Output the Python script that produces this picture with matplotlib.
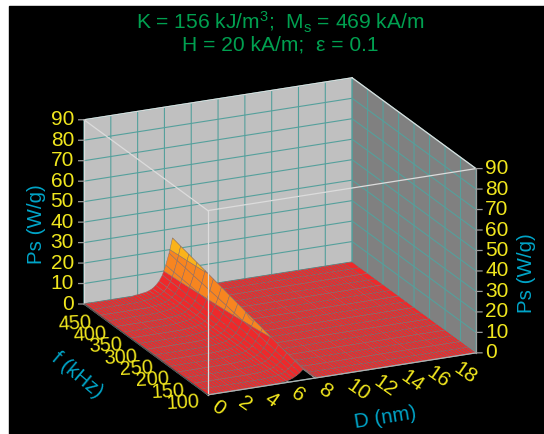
import numpy as np
import matplotlib
matplotlib.use('Agg')
import matplotlib.pyplot as plt
from matplotlib.patches import Rectangle
from mpl_toolkits.mplot3d import proj3d
from mpl_toolkits.mplot3d.art3d import Poly3DCollection

# values
D_ticks = [0, 2, 4, 6, 8, 10, 12, 14, 16, 18, 20]
D_labels = ['0', '2', '4', '6', '8', '10', '12', '14', '16', '18', '']
f_ticks = [100, 150, 200, 250, 300, 350, 400, 450, 500]
f_labels = ['100', '150', '200', '250', '300', '350', '400', '450', '']
Ps_ticks = [0, 10, 20, 30, 40, 50, 60, 70, 80, 90]

D_nm = np.arange(0, 20.25, 0.25)
f_khz = np.arange(100, 525, 25)
D_ridge_start = 17  # 4.25 nm, outside the table the sheet is flat at 0

# where the ridge top sits for each f (nm)
D_peak = [7.1, 7.07, 7.04, 7.0, 6.98, 6.95, 6.91, 6.88, 6.85,
          6.82, 6.79, 6.76, 6.73, 6.69, 6.66, 6.63, 6.6]

# Ps (W/g), one row per f, columns run from 2.75 nm below the ridge top to 2.25 nm above it
Ps_ridge = [
    [.1, .1, .2, .2, .3, .5, .7, 1.1, 1.7, 2.6, 3.7, 5.2, 4.1, 2.3, 1.1, .4, .1, 0, 0, 0, 0],
    [.1, .1, .2, .3, .4, .6, .9, 1.3, 2.0, 3.2, 4.6, 6.4, 5.0, 2.9, 1.4, .5, .1, 0, 0, 0, 0],
    [.1, .2, .2, .3, .5, .7, 1.1, 1.6, 2.5, 3.9, 5.5, 7.7, 6.0, 3.5, 1.7, .6, .2, 0, 0, 0, 0],
    [.1, .2, .3, .4, .5, .8, 1.2, 1.9, 2.8, 4.5, 6.4, 8.9, 6.9, 4.0, 2.0, .7, .2, 0, 0, 0, 0],
    [.2, .2, .3, .4, .6, .9, 1.4, 2.1, 3.3, 5.1, 7.3, 10.2, 8.0, 4.6, 2.2, .8, .2, 0, 0, 0, 0],
    [.2, .2, .3, .5, .7, 1.0, 1.6, 2.4, 3.7, 5.8, 8.3, 11.5, 9.0, 5.2, 2.5, .9, .2, 0, 0, 0, 0],
    [.2, .3, .4, .5, .8, 1.2, 1.8, 2.7, 4.1, 6.4, 9.2, 12.8, 10.0, 5.8, 2.8, 1.0, .3, 0, 0, 0, 0],
    [.2, .3, .4, .6, .8, 1.3, 2.0, 2.9, 4.5, 7.0, 10.1, 14.0, 10.9, 6.3, 3.1, 1.1, .3, 0, 0, 0, 0],
    [.2, .3, .5, .6, .9, 1.4, 2.1, 3.2, 4.9, 7.7, 11.0, 15.3, 11.9, 6.9, 3.4, 1.2, .3, 0, 0, 0, 0],
    [.2, .3, .5, .7, 1.0, 1.5, 2.3, 3.5, 5.3, 8.3, 12.0, 16.6, 12.9, 7.5, 3.7, 1.3, .3, 0, 0, 0, 0],
    [.3, .4, .5, .7, 1.1, 1.6, 2.5, 3.8, 5.7, 9.0, 12.9, 17.9, 14.0, 8.1, 3.9, 1.4, .4, 0, 0, 0, 0],
    [.3, .4, .6, .8, 1.1, 1.7, 2.7, 4.0, 6.1, 9.6, 13.8, 19.1, 14.9, 8.6, 4.2, 1.5, .4, 0, 0, 0, 0],
    [.3, .4, .6, .8, 1.2, 1.8, 2.9, 4.3, 6.5, 10.2, 14.7, 20.4, 15.9, 9.2, 4.5, 1.6, .4, 0, 0, 0, 0],
    [.3, .4, .7, .9, 1.3, 2.0, 3.0, 4.6, 6.9, 10.9, 15.6, 21.7, 16.9, 9.8, 4.8, 1.7, .4, 0, 0, 0, 0],
    [.3, .5, .7, .9, 1.4, 2.1, 3.2, 4.8, 7.4, 11.5, 16.6, 23.0, 17.9, 10.4, 5.1, 1.8, .5, 0, 0, 0, 0],
    [.4, .5, .7, 1.0, 1.5, 2.2, 3.4, 5.1, 7.7, 12.1, 17.4, 24.2, 18.9, 10.9, 5.3, 1.9, .5, 0, 0, 0, 0],
    [.4, .5, .8, 1.0, 1.5, 2.3, 3.6, 5.4, 8.2, 12.8, 18.4, 25.5, 19.9, 11.5, 5.6, 2.0, .5, 0, 0, 0, 0],
]

band_edges = [-1, 10, 20, 91]
band_colors = ['#ee292b', '#f78520', '#fab31a']

YELLOW = '#f0e61e'
CYAN = '#00a5c8'
GREEN = '#00a050'
TEAL = '#55a09c'
BOX = '#dcdcdc'
W, H = 544, 434

plt.rcParams['font.family'] = ['Liberation Sans', 'DejaVu Sans']
plt.rcParams['mathtext.fontset'] = 'custom'
plt.rcParams['mathtext.rm'] = 'Liberation Sans'
plt.rcParams['mathtext.default'] = 'regular'
plt.rcParams['grid.color'] = TEAL
plt.rcParams['grid.linewidth'] = 0.8

fig = plt.figure(figsize=(W / 100, H / 100), dpi=100, facecolor='white')
fig.add_artist(Rectangle((9 / W, 0), 1, (H - 6) / H, transform=fig.transFigure,
                         color='black', zorder=-1))

ax = fig.add_axes([0, 0, H / W, 1], projection='3d', proj_type='ortho',
                  computed_zorder=False)
ax.set_facecolor('none')
ax.view_init(elev=19.8, azim=-114.8)
ax.set_box_aspect((1, 1, 0.663))
ax.set_xlim(0, 20, view_margin=0)
ax.set_ylim(100, 500, view_margin=0)
ax.set_zlim(0, 90, view_margin=0)

# walls
ax.xaxis.set_pane_color('#808080')
ax.yaxis.set_pane_color('#c0c0c0')
ax.zaxis.set_pane_color('black')
for a in (ax.xaxis, ax.yaxis, ax.zaxis):
    a.pane.set_edgecolor('none')
    a.line.set_color('none')
    a._axinfo['tick']['inward_factor'] = 0
    a._axinfo['tick']['outward_factor'] = 0.25

ax.set_xticks(D_ticks)
ax.set_yticks(f_ticks)
ax.set_zticks(Ps_ticks)
ax.set_xticklabels([])
ax.set_yticklabels([])
ax.set_zticklabels([])
ax.tick_params(axis='x', color='#9a9a9a', width=0.8)
ax.tick_params(axis='y', color='#6a6a6a', width=0.8)
ax.tick_params(axis='z', color='none')

# surface, mesh columns lean a little so they follow the ridge
Ps = np.zeros((len(f_khz), len(D_nm)))
Ps[:, D_ridge_start:D_ridge_start + len(Ps_ridge[0])] = Ps_ridge
DD, FF = np.meshgrid(D_nm, f_khz)
DD = np.clip(DD + (np.array(D_peak) - 7.0)[:, None], 0, 20)
DD[:, 0] = 0
DD[:, -1] = 20

def cut(poly, level, above):
    # keep the part of a mesh cell on one side of a colour level
    out = []
    for i in range(len(poly)):
        a, b = poly[i], poly[(i + 1) % len(poly)]
        in_a = a[2] >= level if above else a[2] <= level
        in_b = b[2] >= level if above else b[2] <= level
        if in_a:
            out.append(a)
        if in_a != in_b:
            out.append(a + (level - a[2]) / (b[2] - a[2]) * (b - a))
    return out

pts = np.dstack([DD, FF, Ps])
polys, colors = [], []
for i in range(pts.shape[0] - 1):
    for j in range(pts.shape[1] - 1):
        quad = [pts[i, j], pts[i, j + 1], pts[i + 1, j + 1], pts[i + 1, j]]
        for b, c in enumerate(band_colors):
            piece = cut(quad, band_edges[b], True)
            piece = cut(piece, band_edges[b + 1], False) if piece else piece
            if len(piece) > 2:
                polys.append(np.array(piece))
                colors.append(c)
sheet = Poly3DCollection(polys, facecolors=colors, edgecolors='#8a7070', linewidths=0.35,
                         zsort='average', zorder=2)
ax.add_collection3d(sheet, autolim=False)

# box outline
def edge(xs, ys, zs, color=BOX):
    ax.plot(xs, ys, zs, color=color, lw=0.9, zorder=3)

edge([0, 0], [100, 100], [0, 90])
edge([0, 20], [100, 100], [90, 90])
edge([0, 0], [100, 500], [90, 90])
edge([0, 20], [500, 500], [90, 90])
edge([20, 20], [100, 500], [90, 90])
edge([0, 0], [500, 500], [0, 90])
edge([20, 20], [100, 100], [0, 90], '#a0a0a0')
edge([0, 20], [100, 100], [0, 0], '#b0b0b0')
edge([0, 0], [100, 500], [0, 0], '#505050')
for z in Ps_ticks:
    edge([-0.4, 0], [500, 500], [z + 0.4, z], '#9a9a9a')
    edge([20, 20.45], [100, 100], [z, z - 0.45], '#9a9a9a')

# fit the box to the pixel corners of the reference
corners = [(0, 500, 0), (20, 100, 0)]
targets = np.array([[84, H - 304], [476, H - 353]], dtype=float)
side = float(H)
left, bottom = 0.0, 0.0
M = ax.get_proj()
view = np.array([proj3d.proj_transform(*c, M)[:2] for c in corners])
for i in range(3):
    fig.canvas.draw()
    px = ax.transData.transform(view)
    side *= (targets[1, 0] - targets[0, 0]) / (px[1, 0] - px[0, 0])
    ax.set_position([left / W, bottom / H, side / W, side / H])
    fig.canvas.draw()
    px = ax.transData.transform(view)
    left += targets[0, 0] - px[0, 0]
    bottom += targets[0, 1] - px[0, 1]
    ax.set_position([left / W, bottom / H, side / W, side / H])

def label(x, y, z, s, dx, dy, rot=0, ha='center', size=15):
    vx, vy, _ = proj3d.proj_transform(x, y, z, M)
    ax.annotate(s, (vx, vy), xytext=(dx, dy), textcoords='offset pixels', color=YELLOW,
                fontsize=size, rotation=rot, rotation_mode='anchor', ha=ha, va='center',
                annotation_clip=False, zorder=5)

for z in Ps_ticks:
    label(0, 500, z, str(z), -10, 0, ha='right')
    label(20, 100, z, str(z), 9, 0, ha='left')
for d, s in zip(D_ticks, D_labels):
    if len(s) == 1:
        label(d, 100, 0, s, 10, -13, rot=-35)
    elif s:
        label(d, 100, 0, s, 16, -16, rot=-35)
for f, s in zip(f_ticks, f_labels):
    if s:
        label(0, f, 0, s, -25, -8, rot=3, size=14.4)

def title_text(x, y, s, color, size=15.1, rot=0):
    fig.text(x / W, 1 - y / H, s, color=color, fontsize=size, rotation=rot,
             ha='center', va='center', rotation_mode='anchor')

title_text(280, 22, 'K = 156 kJ/m$^{3}$;  M$_{s}$ = 469 kA/m', GREEN)
title_text(280, 45, 'H = 20 kA/m;  ε = 0.1', GREEN)
title_text(36, 224, 'Ps (W/g)', CYAN, 14.8, 90)
title_text(526, 273, 'Ps (W/g)', CYAN, 14.8, 90)
title_text(77, 375, 'f (kHz)', CYAN, 14.8, -40)
title_text(385, 418, 'D (nm)', CYAN, 14.8, 9)

fig.savefig('out.png', dpi=100, facecolor='white')
